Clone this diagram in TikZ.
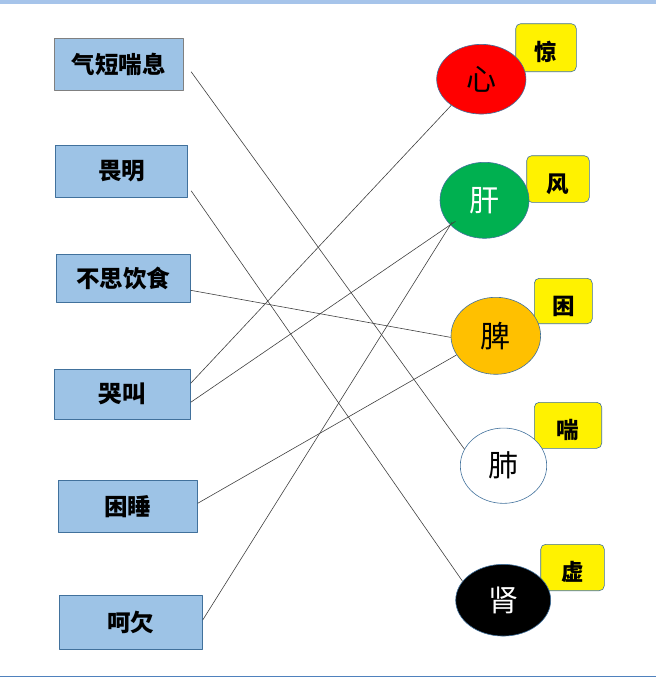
\documentclass[tikz,border=0pt]{standalone}
\usepackage{fontspec}
\setmainfont{Noto Sans CJK SC}
\usetikzlibrary{shapes.geometric}
\definecolor{barblue}{HTML}{A6C4EA}
\definecolor{boxblue}{HTML}{9DC3E6}
\definecolor{edgeblue}{HTML}{41719C}
\definecolor{lineblue}{HTML}{4F81BD}
\definecolor{orgred}{HTML}{FF0000}
\definecolor{orggreen}{HTML}{00B050}
\definecolor{orgorange}{HTML}{FFC000}
\begin{document}
\begin{tikzpicture}[x=1pt,y=-1pt,line join=round,
 symptom/.style={draw=edgeblue,fill=boxblue,line width=.8pt,inner sep=0pt,font=\fontsize{23.5}{23.5}\selectfont\bfseries},
 tag/.style={draw=edgeblue,fill=yellow,rounded corners=5pt,line width=.6pt,inner sep=0pt,text height=29pt,text depth=2.7pt,font=\fontsize{22.5}{22.5}\selectfont\bfseries},
 organ/.style={ellipse,draw=edgeblue,line width=.6pt,inner sep=0pt,font=\fontsize{30}{30}\selectfont},
 link/.style={draw=black!75,line width=.6pt}]
 \useasboundingbox (0,0) rectangle (656,678);
 \fill[barblue] (0,0) rectangle (656,4);
 \draw[lineblue,line width=1pt] (0,676.7)--(656,676.7);
 \node[symptom,draw=gray,minimum width=129pt,minimum height=51.7pt] (qiduan) at (118.8,64.2) {气短喘息};
 \node[symptom,minimum width=132.4pt,minimum height=52pt] (weiming) at (121.5,171.3) {畏明};
 \node[symptom,minimum width=134pt,minimum height=48pt] (busi) at (123.3,278.3) {不思饮食};
 \node[symptom,minimum width=136pt,minimum height=50pt] (kujiao) at (122.3,394.3) {哭叫};
 \node[symptom,minimum width=139pt,minimum height=52pt] (kunshui) at (127.8,506.3) {困睡};
 \node[symptom,minimum width=143pt,minimum height=54pt] (haqian) at (130.8,622.3) {呵欠};
 \node[tag,minimum width=60.6pt,minimum height=48pt] (jing) at (546,47.7) {惊};
 \node[tag,minimum width=62.6pt,minimum height=46.6pt] (feng) at (558,179) {风};
 \node[tag,minimum width=58pt,minimum height=45.4pt] (kun) at (563.3,301) {困};
 \node[tag,minimum width=67.4pt,minimum height=46pt] (chuan) at (568,425.3) {喘};
 \node[tag,minimum width=63.6pt,minimum height=46.4pt] (xu) at (572.5,567.5) {虚};
 \node[organ,fill=orgred,minimum width=89.3pt,minimum height=69.7pt] (xin) at (481.3,79.2) {心};
 \node[organ,fill=orggreen,text=white,minimum width=89pt,minimum height=76pt] (gan) at (484.5,200.3) {肝};
 \node[organ,fill=orgorange,minimum width=89.6pt,minimum height=77pt] (pi) at (495.8,335.8) {脾};
 \node[organ,fill=white,minimum width=86.4pt,minimum height=75.3pt] (fei) at (503.5,465.7) {肺};
 \node[organ,fill=black,text=white,minimum width=95pt,minimum height=71.7pt] (shen) at (503.2,600.2) {肾};
 \draw[link] ([xshift=7.4pt,yshift=-7.5pt]qiduan.east)--(fei.157);
 \draw[link] ([xshift=3pt,yshift=-19.4pt]weiming.east)--(shen.155);
 \draw[link] ([yshift=-12pt]busi.east)--(pi.182);
 \draw[link] ([yshift=11pt]kujiao.east)--(xin.221);
 \draw[link] ([yshift=-8pt]kujiao.east)--([xshift=-29pt,yshift=-21pt]gan.center);
 \draw[link] ([yshift=3pt]kunshui.east)--(pi.206);
 \draw[link] ([yshift=2.3pt]haqian.east)--([xshift=-32.5pt,yshift=-22pt]gan.center);
\end{tikzpicture}
\end{document}
